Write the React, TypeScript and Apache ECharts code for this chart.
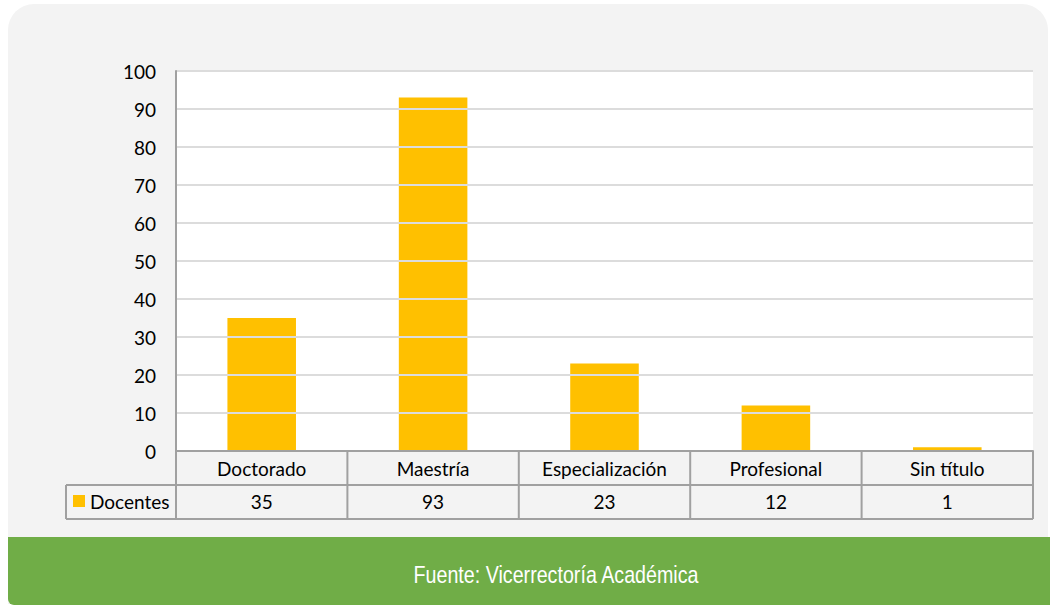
import React, { useEffect, useRef } from "react";
import * as echarts from "echarts";

const categories = ["Doctorado", "Maestría", "Especialización", "Profesional", "Sin título"];
const docentes = [35, 93, 23, 12, 1];
const seriesName = "Docentes";
const sourceText = "Fuente: Vicerrectoría Académica";

const W = 1050;
const H = 606;
const GL = 176, GT = 71, GR = 1033, GB = 451;
const ROW = 34;
const FONT = "Lato, 'Liberation Sans', sans-serif";
const BORDER = "#a0a0a0";

export default function App() {
  const ref = useRef<HTMLDivElement>(null);
  useEffect(() => {
    if (!ref.current) return;
    const chart = echarts.init(ref.current, null, { renderer: "svg", width: W, height: H });
    chart.setOption({
      animation: false,
      backgroundColor: "#ffffff",
      grid: {
        left: GL, top: GT, right: W - GR, bottom: H - GB,
        show: true, backgroundColor: "#ffffff", borderWidth: 0, z: 1,
      },
      xAxis: {
        type: "category",
        data: categories,
        axisLine: { show: true, lineStyle: { color: BORDER, width: 2 } },
        axisTick: { show: false },
        axisLabel: { color: "#000", fontSize: 19, fontFamily: FONT, verticalAlign: "middle", margin: 17 },
        z: 5,
      },
      yAxis: {
        type: "value",
        min: 0, max: 100, interval: 10,
        axisLine: { show: true, lineStyle: { color: BORDER, width: 2 } },
        axisTick: { show: false },
        axisLabel: { color: "#000", fontSize: 19, fontFamily: FONT, margin: 20 },
        splitLine: { lineStyle: { color: "#dcdcdc", width: 2 } },
        z: 5,
      },
      series: [{
        name: seriesName,
        type: "bar",
        data: docentes,
        barWidth: "40%",
        itemStyle: { color: "#ffc000" },
        z: 3,
      }],
    });

    const centers = categories.map((c) => chart.convertToPixel({ xAxisIndex: 0 }, c) as number);
    const step = (GR - GL) / categories.length;
    const r1 = GB + ROW, r2 = GB + 2 * ROW;
    const lines: any[] = [];
    const ln = (x1: number, y1: number, x2: number, y2: number) =>
      lines.push({ type: "line", z: 10, shape: { x1, y1, x2, y2 }, style: { stroke: BORDER, lineWidth: 2 } });
    ln(66, r1, GR, r1);
    ln(66, r2, GR, r2);
    ln(66, r1, 66, r2);
    for (let i = 0; i <= categories.length; i++) {
      const x = GL + step * i;
      ln(x, GB, x, r2);
    }
    const valueTexts = docentes.map((v, i) => ({
      type: "text", z: 11, x: centers[i], y: (r1 + r2) / 2 - 1,
      style: { text: String(v), fill: "#000", font: `19px ${FONT}`, textAlign: "center", textVerticalAlign: "middle" },
    }));

    chart.setOption({
      graphic: [
        { type: "rect", z: -10, silent: true, shape: { x: 8, y: 4, width: 1040, height: 600, r: [26, 26, 0, 0] }, style: { fill: "#f3f3f3" } },
        { type: "rect", z: -9, silent: true, shape: { x: 8, y: 537, width: 1042, height: 68, r: [0, 0, 0, 6] }, style: { fill: "#70ad47" } },
        {
          type: "text", z: 11, x: 556, y: 575, scaleX: 0.82,
          style: { text: sourceText, fill: "#ffffff", font: `24px 'Liberation Sans', Arial, sans-serif`, textAlign: "center", textVerticalAlign: "middle" },
        },
        ...lines,
        { type: "rect", z: 11, shape: { x: 73, y: 495, width: 12, height: 12 }, style: { fill: "#ffc000" } },
        {
          type: "text", z: 11, x: 90, y: (r1 + r2) / 2 - 1,
          style: { text: seriesName, fill: "#000", font: `19px ${FONT}`, textAlign: "left", textVerticalAlign: "middle" },
        },
        ...valueTexts,
      ],
    });
    return () => chart.dispose();
  }, []);
  return <div ref={ref} style={{ position: "fixed", left: 0, top: 0, width: W, height: H }} />;
}
